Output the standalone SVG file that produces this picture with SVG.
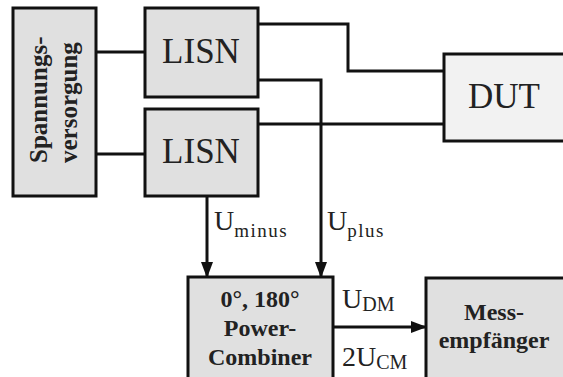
<svg xmlns="http://www.w3.org/2000/svg" width="563" height="377" viewBox="0 0 563 377">
<style>
.box{fill:#e0e0e0;stroke:#111;stroke-width:3}
.dut{fill:#f2f2f2;stroke:#111;stroke-width:3}
.w{fill:none;stroke:#111;stroke-width:3}
.t{fill:#222}
.b{font-weight:bold;fill:#222}
</style>
<defs>
<marker id="ah" markerUnits="userSpaceOnUse" markerWidth="16" markerHeight="14" refX="15" refY="7" orient="auto">
<path d="M0,1 L16,7 L0,13 Z" fill="#111"/>
</marker>
</defs>
<rect width="563" height="377" fill="#fff"/>
<g id="connectors">
<path class="w" d="M96,52 H145"/>
<path class="w" d="M96,154 H145"/>
<path class="w" d="M258,24 H348 V71 H444"/>
<path class="w" d="M258,80 H321 V277" marker-end="url(#ah)"/>
<path class="w" d="M258,124 H444"/>
<path class="w" d="M207,196 V277" marker-end="url(#ah)"/>
<path class="w" d="M333,327 H426" marker-end="url(#ah)"/>
</g>
<g font-family="'Liberation Serif', 'Times New Roman', serif">
<g id="spannung">
<rect class="box" x="13" y="8" width="83" height="188"/>
<g transform="rotate(-90)">
<text class="b" x="-163" y="47" font-size="25">Spannungs-</text>
<text class="b" x="-163" y="77" font-size="25">versorgung</text>
</g>
</g>
<g id="lisn1">
<rect class="box" x="145" y="8" width="113" height="89"/>
<text class="t" x="201" y="63" font-size="35" text-anchor="middle">LISN</text>
</g>
<g id="lisn2">
<rect class="box" x="145" y="109" width="113" height="87"/>
<text class="t" x="201" y="163" font-size="35" text-anchor="middle">LISN</text>
</g>
<g id="dut">
<rect class="dut" x="444" y="54" width="130" height="87"/>
<text class="t" x="504" y="108" font-size="35" text-anchor="middle">DUT</text>
</g>
<g id="combiner">
<rect class="box" x="188" y="277" width="145" height="110"/>
<text class="b" x="260" y="307" font-size="24" text-anchor="middle">0°, 180°</text>
<text class="b" x="260" y="336" font-size="24" text-anchor="middle">Power-</text>
<text class="b" x="260" y="365" font-size="24" text-anchor="middle">Combiner</text>
</g>
<g id="messempfaenger">
<rect class="box" x="426" y="278" width="150" height="110"/>
<text class="b" x="494" y="320" font-size="24" text-anchor="middle">Mess-</text>
<text class="b" x="494" y="348" font-size="24" text-anchor="middle">empfänger</text>
</g>
<g id="labels">
<text class="t" x="214" y="230" font-size="28">U<tspan font-size="19" dy="7" letter-spacing="1.5">minus</tspan></text>
<text class="t" x="327" y="230" font-size="28">U<tspan font-size="19" dy="7" letter-spacing="1.5">plus</tspan></text>
<text class="t" x="342" y="308" font-size="28">U<tspan font-size="20" dy="3">DM</tspan></text>
<text class="t" x="342" y="366" font-size="28">2U<tspan font-size="20" dy="3">CM</tspan></text>
</g>
</g>
</svg>
